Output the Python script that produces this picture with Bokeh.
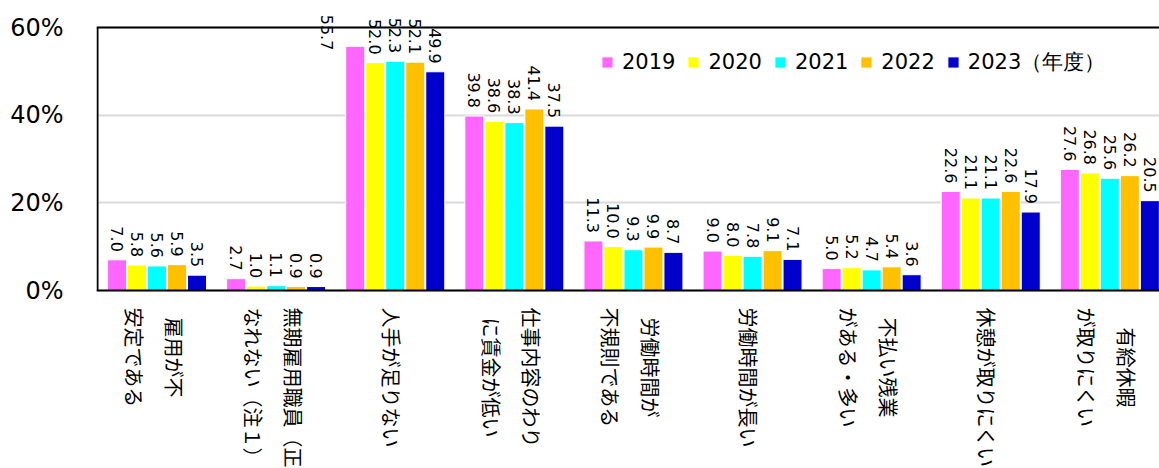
import numpy as np
from bokeh.plotting import figure
from bokeh.models import (ColumnDataSource, Label, Range1d, FixedTicker,
                          PrintfTickFormatter, Span, Legend, LegendItem)
from bokeh.embed import file_html
from bokeh.resources import INLINE

# ---------------- data ----------------
categories = [
    ["雇用が不", "安定である"],
    ["無期雇用職員（正社員）に", "なれない（注１）"],
    ["人手が足りない"],
    ["仕事内容のわり", "に賃金が低い"],
    ["労働時間が", "不規則である"],
    ["労働時間が長い"],
    ["不払い残業", "がある・多い"],
    ["休憩が取りにくい"],
    ["有給休暇", "が取りにくい"],
]
years = ["2019", "2020", "2021", "2022", "2023（年度）"]
v2019 = [7.0, 2.7, 55.7, 39.8, 11.3, 9.0, 5.0, 22.6, 27.6]
v2020 = [5.8, 1.0, 52.0, 38.6, 10.0, 8.0, 5.2, 21.1, 26.8]
v2021 = [5.6, 1.1, 52.3, 38.3, 9.3, 7.8, 4.7, 21.1, 25.6]
v2022 = [5.9, 0.9, 52.1, 41.4, 9.9, 9.1, 5.4, 22.6, 26.2]
v2023 = [3.5, 0.9, 49.9, 37.5, 8.7, 7.1, 3.6, 17.9, 20.5]
y_ticks = [0, 20, 40, 60]

series = [v2019, v2020, v2021, v2022, v2023]
colors = ["#FF66FF", "#FFFF00", "#00FFFF", "#FFC000", "#0000CC"]

# ---------------- layout ----------------
W, H = 1159, 468
ML = 96                        # frame left (axis line drawn 1px inside)
PLOT_TOP, PLOT_BOTTOM = 27, 290  # pixel rows of 60% and 0%
PPU = (PLOT_BOTTOM - PLOT_TOP) / 60.0   # pixels per y unit
PITCH = 119.1                 # pixels per category
X0 = -1 / PITCH
XMAX = X0 + (W - ML) / PITCH
BAR_PITCH = 20 / PITCH
BAR_W = 19 / PITCH
Y0 = -(H - PLOT_BOTTOM) / PPU
Y1 = 60 + PLOT_TOP / PPU

p = figure(width=W, height=H, output_backend="svg", toolbar_location=None,
           x_range=Range1d(X0, XMAX), y_range=Range1d(Y0, Y1),
           min_border_left=ML, min_border_right=0, min_border_top=0,
           min_border_bottom=0)
p.outline_line_color = None
p.background_fill_color = "white"
p.border_fill_color = "white"
p.xaxis.visible = False

# y axis (labels only, line drawn separately)
p.yaxis.ticker = FixedTicker(ticks=y_ticks)
p.yaxis.formatter = PrintfTickFormatter(format="%d%%")
p.yaxis.major_label_text_font = "DejaVu Sans"
p.yaxis.major_label_text_font_size = "24px"
p.yaxis.major_label_text_color = "black"
p.yaxis.major_tick_out = 0
p.yaxis.major_tick_in = 0
p.yaxis.minor_tick_out = 0
p.yaxis.minor_tick_in = 0
p.yaxis.axis_line_color = None
p.yaxis.major_label_standoff = 33

p.xgrid.grid_line_color = None
p.ygrid.grid_line_color = "#d9d9d9"
p.ygrid.grid_line_width = 2

# frame lines: top, bottom (baseline), left
p.add_layout(Span(location=60, dimension="width", line_color="black", line_width=2))
p.add_layout(Span(location=0, dimension="width", line_color="black", line_width=2))
p.segment(x0=[0], y0=[0], x1=[0], y1=[60], line_color="black", line_width=2)

# ---------------- bars & value labels ----------------
LABEL_GAP = 8  # px above bar
# special label nudges (category, series): (dx px, dy px)
NUDGE = {(2, 0): (-28, -12)}

items = []
n = len(categories)
for k, (yr, vals, c) in enumerate(zip(years, series, colors)):
    xs = np.arange(n) + 0.5 + (k - 2) * BAR_PITCH
    src = ColumnDataSource(dict(x=xs, top=vals))
    r = p.vbar(x="x", top="top", bottom=0, width=BAR_W, source=src,
               fill_color=c, line_color="white", line_width=1)
    items.append(LegendItem(label=yr, renderers=[r]))
    for i, v in enumerate(vals):
        dx, dy = NUDGE.get((i, k), (0, 0))
        p.add_layout(Label(x=float(xs[i] + dx / PITCH),
                           y=float(v + (LABEL_GAP + dy) / PPU),
                           text=f"{v:.1f}", angle=-np.pi / 2,
                           text_align="right", text_baseline="middle",
                           text_font="DejaVu Sans", text_font_size="16px",
                           text_color="black"))

# ---------------- category labels ----------------
FS = 20
TOP = 17  # px below axis where the longest line starts
for i, lines in enumerate(categories):
    lmax = min(max(len(s) for s in lines), 8)
    offs = [-4] if len(lines) == 1 else [17, -23]
    for s, o in zip(lines, offs):
        start = TOP + max(0, lmax - len(s)) * FS / 2
        p.add_layout(Label(x=float(i + 0.5 + o / PITCH), y=float(-start / PPU),
                           text=s, angle=-np.pi / 2, text_align="left",
                           text_baseline="middle",
                           text_font="Noto Sans CJK JP",
                           text_font_size=f"{FS}px", text_color="black"))

# ---------------- legend ----------------
legend = Legend(items=items, location=(504, H - 76), orientation="horizontal",
                border_line_color=None, background_fill_alpha=0,
                padding=0, margin=0, spacing=11, glyph_width=14,
                glyph_height=14, label_standoff=8, label_height=20,
                label_text_font="DejaVu Sans", label_text_font_size="21px",
                label_text_color="black")
p.add_layout(legend)

open("out.html", "w").write(file_html(p, INLINE))
